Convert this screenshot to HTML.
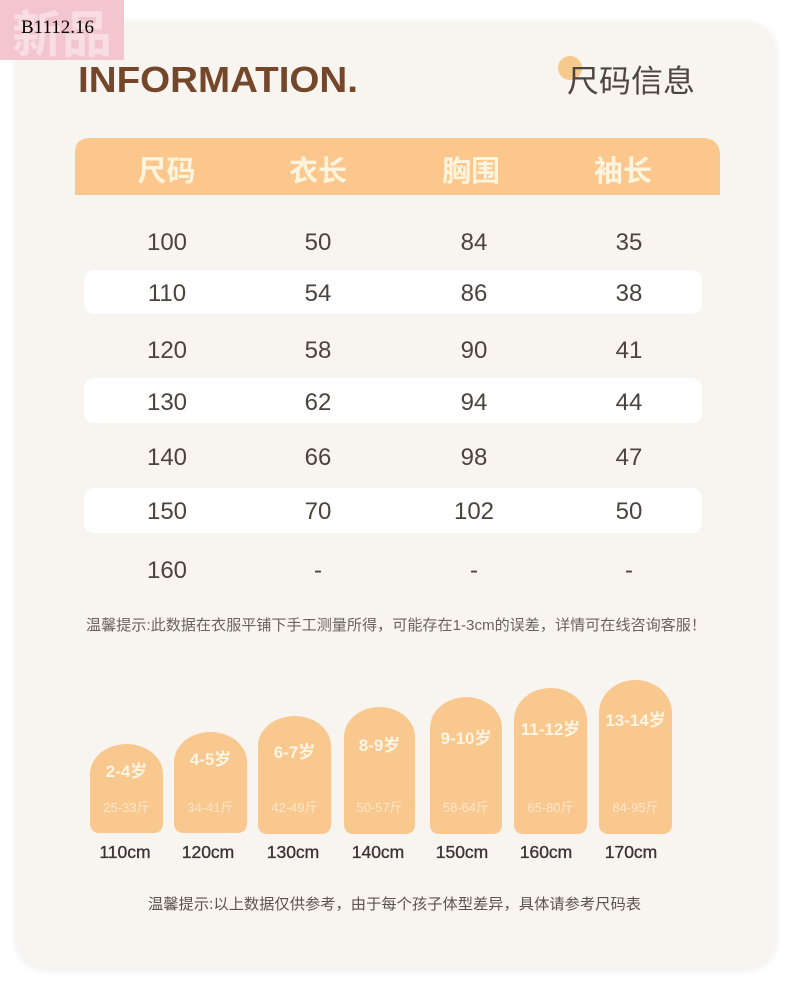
<!DOCTYPE html>
<html><head><meta charset="utf-8"><style>
html,body{margin:0;padding:0;background:#ffffff;}
svg{display:block;}
</style></head><body>
<svg width="790" height="990" viewBox="0 0 790 990" xmlns="http://www.w3.org/2000/svg">
<defs>
<filter id="sh" x="-5%" y="-5%" width="110%" height="110%">
<feGaussianBlur in="SourceAlpha" stdDeviation="4"/>
<feOffset dx="0" dy="2" result="b"/>
<feComponentTransfer><feFuncA type="linear" slope="0.08"/></feComponentTransfer>
<feMerge><feMergeNode/><feMergeNode in="SourceGraphic"/></feMerge>
</filter>
</defs>
<rect width="790" height="990" fill="#ffffff"/>
<!-- card -->
<rect x="16" y="21" width="760" height="947" rx="30" fill="#f8f5f1" filter="url(#sh)"/>

<!-- pink tag -->
<rect x="0" y="0" width="124" height="60" fill="#f3c5ce"/>
<text x="62" y="52" text-anchor="middle" font-family="'Noto Sans CJK SC',sans-serif" font-weight="bold" font-size="50" fill="#f8dde3">新品</text>
<text x="21" y="33" font-family="'Liberation Serif',serif" font-size="19" fill="#000000">B1112.16</text>

<!-- title -->
<text x="78" y="92" font-family="'Liberation Sans',sans-serif" font-weight="bold" font-size="36" fill="#74472a" textLength="280" lengthAdjust="spacingAndGlyphs">INFORMATION.</text>
<circle cx="570" cy="68" r="12" fill="#f6c98d"/>
<text x="567" y="92" font-family="'Liberation Sans','Noto Sans CJK SC',sans-serif" font-size="31" fill="#4d4541" textLength="128" lengthAdjust="spacingAndGlyphs">尺码信息</text>

<!-- header bar -->
<path d="M75,195 L75,153 Q75,138 90,138 L702,138 Q720,138 720,156 L720,195 Z" fill="#fbc78c"/>
<g font-family="'Liberation Sans','Noto Sans CJK SC',sans-serif" font-weight="bold" font-size="29" fill="#fff4de" text-anchor="middle">
<text x="166.5" y="181">尺码</text>
<text x="318" y="181">衣长</text>
<text x="471" y="181">胸围</text>
<text x="623" y="181">袖长</text>
</g>

<!-- white rows -->
<rect x="84" y="270" width="618" height="44" rx="10" fill="#ffffff"/>
<rect x="84" y="378" width="618" height="45" rx="10" fill="#ffffff"/>
<rect x="84" y="488" width="618" height="45" rx="10" fill="#ffffff"/>

<!-- table data -->
<g font-family="'Liberation Sans',sans-serif" font-size="24" fill="#4a4340" text-anchor="middle">
<text x="167" y="250">100</text><text x="318" y="250">50</text><text x="474" y="250">84</text><text x="629" y="250">35</text>
<text x="167" y="301">110</text><text x="318" y="301">54</text><text x="474" y="301">86</text><text x="629" y="301">38</text>
<text x="167" y="358">120</text><text x="318" y="358">58</text><text x="474" y="358">90</text><text x="629" y="358">41</text>
<text x="167" y="410">130</text><text x="318" y="410">62</text><text x="474" y="410">94</text><text x="629" y="410">44</text>
<text x="167" y="465">140</text><text x="318" y="465">66</text><text x="474" y="465">98</text><text x="629" y="465">47</text>
<text x="167" y="519">150</text><text x="318" y="519">70</text><text x="474" y="519">102</text><text x="629" y="519">50</text>
<text x="167" y="578">160</text><text x="318" y="578">-</text><text x="474" y="578">-</text><text x="629" y="578">-</text>
</g>

<!-- note 1 -->
<text x="86" y="630" font-family="'Liberation Sans','Noto Sans CJK SC',sans-serif" font-size="15" fill="#6b625d" textLength="620" lengthAdjust="spacingAndGlyphs">温馨提示:此数据在衣服平铺下手工测量所得，可能存在1-3cm的误差，详情可在线咨询客服！</text>

<!-- pills -->
<g fill="#f9c88f">
<path d="M90,774 A36.5,30 0 0 1 163,774 L163,823 Q163,833 153,833 L100,833 Q90,833 90,823 Z"/>
<path d="M174,762 A36.5,30 0 0 1 247,762 L247,823 Q247,833 237,833 L184,833 Q174,833 174,823 Z"/>
<path d="M258,746 A36.5,30 0 0 1 331,746 L331,824 Q331,834 321,834 L268,834 Q258,834 258,824 Z"/>
<path d="M344,737 A35.5,30 0 0 1 415,737 L415,824 Q415,834 405,834 L354,834 Q344,834 344,824 Z"/>
<path d="M430,728 A36,31 0 0 1 502,728 L502,824 Q502,834 492,834 L440,834 Q430,834 430,824 Z"/>
<path d="M514,720 A36.5,32 0 0 1 587,720 L587,824 Q587,834 577,834 L524,834 Q514,834 514,824 Z"/>
<path d="M599,713 A36.5,33 0 0 1 672,713 L672,824 Q672,834 662,834 L609,834 Q599,834 599,824 Z"/>
</g>
<g font-family="'Liberation Sans','Noto Sans CJK SC',sans-serif" font-weight="bold" font-size="17" fill="#fff5e4" text-anchor="middle">
<text x="126.5" y="777">2-4岁</text>
<text x="210.5" y="765">4-5岁</text>
<text x="294.5" y="758">6-7岁</text>
<text x="379.5" y="751">8-9岁</text>
<text x="466" y="744">9-10岁</text>
<text x="550.5" y="735">11-12岁</text>
<text x="635.5" y="726">13-14岁</text>
</g>
<g font-family="'Liberation Sans','Noto Sans CJK SC',sans-serif" font-size="13" fill="#fde6c8" text-anchor="middle">
<text x="126.5" y="812">25-33斤</text>
<text x="210.5" y="812">34-41斤</text>
<text x="294.5" y="812">42-49斤</text>
<text x="379.5" y="812">50-57斤</text>
<text x="466" y="812">58-64斤</text>
<text x="550.5" y="812">65-80斤</text>
<text x="635.5" y="812">84-95斤</text>
</g>
<g font-family="'Liberation Sans',sans-serif" font-size="17.5" fill="#3a3533" stroke="#3a3533" stroke-width="0.35" text-anchor="middle">
<text x="125" y="858">110cm</text>
<text x="208" y="858">120cm</text>
<text x="293" y="858">130cm</text>
<text x="378" y="858">140cm</text>
<text x="462" y="858">150cm</text>
<text x="546" y="858">160cm</text>
<text x="631" y="858">170cm</text>
</g>

<!-- note 2 -->
<text x="148" y="909" font-family="'Liberation Sans','Noto Sans CJK SC',sans-serif" font-size="15" fill="#5a524e" textLength="493" lengthAdjust="spacingAndGlyphs">温馨提示:以上数据仅供参考，由于每个孩子体型差异，具体请参考尺码表</text>
</svg>
</body></html>
